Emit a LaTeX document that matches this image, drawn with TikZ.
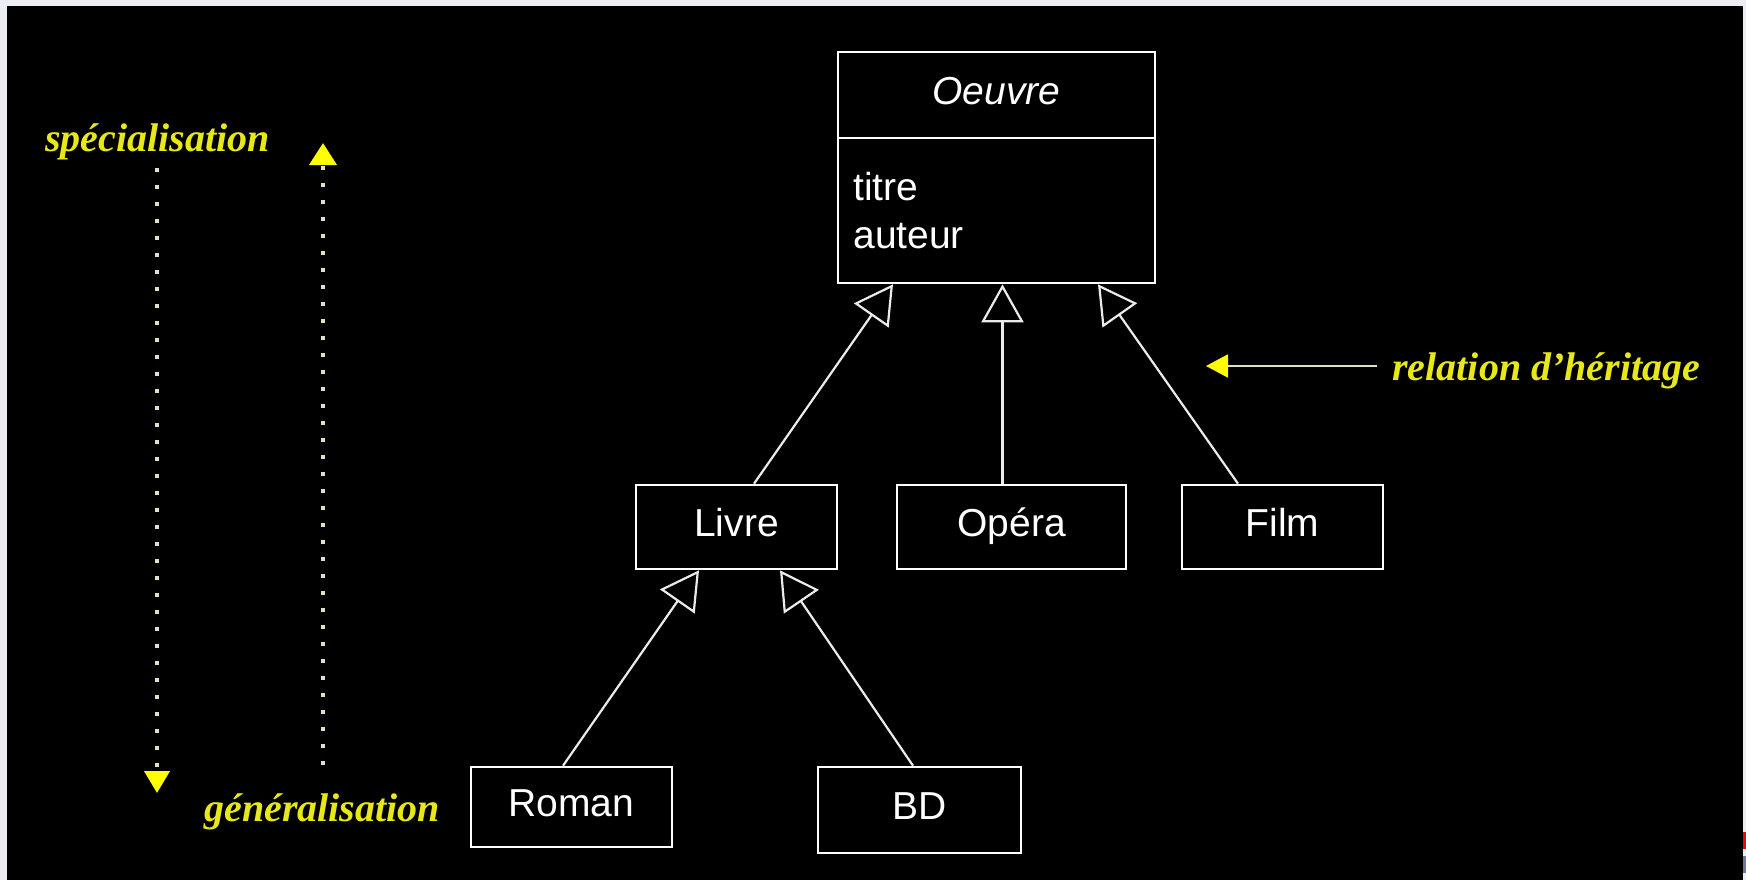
\documentclass[tikz,border=0pt]{standalone}
\usepackage{fontspec}
\setmainfont{Liberation Sans}
\newfontfamily\notefont{Liberation Serif}
\usetikzlibrary{arrows.meta,calc}
\definecolor{notecol}{RGB}{232,232,24}
\definecolor{tipcol}{RGB}{255,255,0}
\definecolor{dotcol}{RGB}{224,224,200}
\definecolor{edgecol}{RGB}{235,235,235}
\definecolor{framecol}{RGB}{236,238,244}
\definecolor{slateblue}{RGB}{110,120,160}
\begin{document}
\begin{tikzpicture}[x=0.5pt,y=-0.5pt,
  cls/.style={draw=white, line width=1.3pt, text=white, inner sep=0pt,
    font=\fontsize{19.5pt}{24pt}\selectfont, text height=14pt, text depth=5pt},
  attr/.style={text=white, inner sep=0pt, anchor=base west,
    font=\fontsize{19.5pt}{24pt}\selectfont},
  inherit/.style={draw=edgecol, line width=1.1pt,
    -{Triangle[open, length=19pt, width=21pt]}},
  note/.style={text=notecol, inner sep=0pt,
    font=\notefont\bfseries\itshape\fontsize{20pt}{24pt}\selectfont},
  dotline/.style={draw=dotcol, line width=2pt, dash pattern=on 2pt off 6.5pt},
  pointer/.style={draw=dotcol, line width=1pt,
    -{Triangle[color=tipcol, length=11pt, width=11.5pt]}}]

% page frame and black slide area
\useasboundingbox (0,0) rectangle (1746,880);
\fill[framecol] (0,0) rectangle (1746,880);
\fill[black] (7,6) rectangle (1743,880);
\fill[red] (1743,832) rectangle (1746,849);
\fill[slateblue] (1743,856) rectangle (1746,873);

% class boxes
\node[cls, minimum width=158.5pt, minimum height=43pt, font=\itshape\fontsize{19.5pt}{24pt}\selectfont]
  (oeuvreh) at (996.5,95) {Oeuvre};
\node[cls, minimum width=158.5pt, minimum height=72.5pt] (oeuvreb) at (996.5,210.5) {};
\node[attr] (titre) at (853,200) {titre};
\node[attr] (auteur) at (853,248) {auteur};

\node[cls, minimum width=100.5pt, minimum height=42pt] (livre) at (736.5,527) {Livre};
\node[cls, minimum width=114.5pt, minimum height=42pt] (opera) at (1011.5,527) {Opéra};
\node[cls, minimum width=100.5pt, minimum height=42pt] (film) at (1282.5,527) {Film};
\node[cls, minimum width=100.5pt, minimum height=40pt] (roman) at (571.5,807) {Roman};
\node[cls, minimum width=101.5pt, minimum height=43pt] (bd) at (919.5,810) {BD};

% inheritance links
\draw[inherit] ($(livre.north)+(17.5,0)$) -- ($(oeuvreb.south)+(-103.5,0)$);
\draw[inherit] ($(opera.north)+(-9,0)$) -- ($(oeuvreb.south)+(6,0)$);
\draw[inherit] ($(film.north)+(-44.5,0)$) -- ($(oeuvreb.south)+(101.5,0)$);
\draw[inherit] ($(roman.north)+(-8.5,0)$) -- ($(livre.south)+(-37.5,0)$);
\draw[inherit] ($(bd.north)+(-6.5,0)$) -- ($(livre.south)+(43.5,0)$);

% annotations
\node[note, anchor=base west] (spec) at (45,151) {spécialisation};
\node[note, anchor=base west] (gen) at (204,821) {généralisation};
\node[note, anchor=base west, inner xsep=7.5pt] (rel) at (1377,380) {relation d’héritage};

\coordinate (downtop) at (157,168);
\coordinate (downtip) at (157,793);
\draw[dotline, -{Triangle[color=tipcol, length=11pt, width=12.5pt]}] (downtop) -- (downtip);

\coordinate (upbot) at (323,765);
\coordinate (uptip) at (323,143);
\draw[dotline, -{Triangle[color=tipcol, length=11pt, width=13.5pt]}] (upbot) -- (uptip);

\coordinate (reltip) at (1206,366);
\draw[pointer] (rel.west |- reltip) -- (reltip);
\end{tikzpicture}
\end{document}
